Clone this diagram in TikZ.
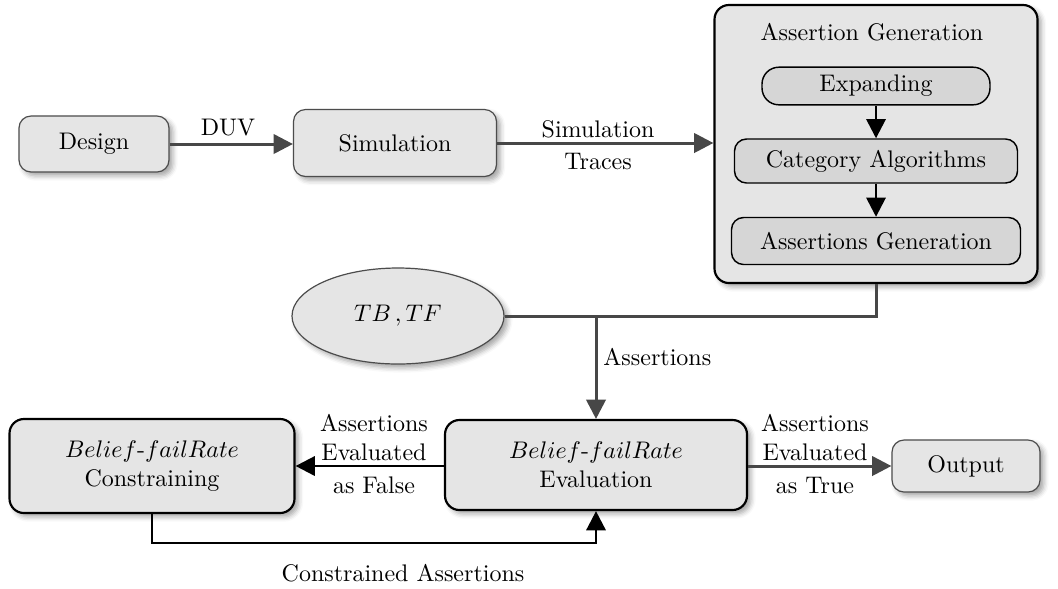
\documentclass[tikz,border=0pt]{standalone}
\usetikzlibrary{arrows.meta,shapes.geometric,shadows.blur}
\newdimen\pxu \pxu=0.4167pt
\tikzset{
  shad/.style={blur shadow={shadow xshift=1.6pt, shadow yshift=-1.6pt, shadow blur radius=2pt, shadow opacity=35}},
  box/.style={draw=black!70, line width=0.5pt, fill=black!10, rounded corners=5pt, align=center, shad},
  bigbox/.style={draw=black, line width=0.9pt, fill=black!10, rounded corners=6pt, align=center, shad},
  inbox/.style={draw=black, line width=0.6pt, fill=black!16, rounded corners=5pt, align=center},
  garrow/.style={draw=black!72, line width=1.25pt, -{Triangle[length=8pt,width=8pt]}},
  barrow/.style={draw=black, line width=1.1pt, -{Triangle[length=8pt,width=8pt]}},
  gline/.style={draw=black!72, line width=1.25pt},
  lbl/.style={align=center, inner sep=0pt}
}
\begin{document}
\begin{tikzpicture}[x=0.4167pt, y=-0.4167pt]
\useasboundingbox (0,0) rectangle (1058,588);
% top row
\node[box, minimum width=150\pxu, minimum height=56\pxu] (design) at (94,144) {Design};
\node[box, minimum width=203\pxu, minimum height=67\pxu] (sim) at (395,143) {Simulation};
% assertion generation container
\node[bigbox, minimum width=323\pxu, minimum height=278\pxu] (ag) at (876,144) {};
\node[lbl] (agt) at (872,32) {Assertion Generation};
\node[inbox, rounded corners=7pt, minimum width=228\pxu, minimum height=34\pxu] (exp) at (876,86) {Expanding};
\node[inbox, minimum width=283\pxu, minimum height=44\pxu] (cat) at (876,161) {Category Algorithms};
\node[inbox, minimum width=289\pxu, minimum height=47\pxu] (agen) at (876,241) {Assertions Generation};
% ellipse
\node[ellipse, draw=black!70, line width=0.5pt, fill=black!10, shad, minimum width=212\pxu, minimum height=96\pxu] (tb) at (398,316) {$TB\,,TF$};
% bottom row
\node[bigbox, minimum width=302\pxu, minimum height=90\pxu] (eval) at (596,465) {$Belief$-$failRate$\\Evaluation};
\node[bigbox, minimum width=285\pxu, minimum height=94\pxu] (con) at (152,466) {$Belief$-$failRate$\\Constraining};
\node[box, minimum width=148\pxu, minimum height=52\pxu] (out) at (966,466) {Output};
% connectors
\draw[garrow] (design.east) -- (sim.west |- design.east);
\node[lbl] (duv) at (228,128) {DUV};
\draw[garrow] (sim.east) -- (sim.east -| ag.west);
\node[lbl] (simt) at (598,145) {Simulation\\[1.5pt]Traces};
\draw[barrow] (exp.south) -- (cat.north);
\draw[barrow] (cat.south) -- (agen.north);
\coordinate (j) at (eval.north |- tb.east);
\draw[gline] (ag.south) |- (tb.east);
\draw[garrow] (j) -- (eval.north);
\node[lbl, anchor=west] (asl) at (603,357) {Assertions};
\draw[barrow] (eval.west |- con.east) -- (con.east);
\node[lbl] (fl) at (374,454) {Assertions\\Evaluated\\[1.5pt]as False};
\draw[garrow] (eval.east |- out.west) -- (out.west);
\node[lbl] (tl) at (815,454) {Assertions\\Evaluated\\[1.5pt]as True};
\coordinate (cb) at (0,543);
\draw[barrow] (con.south) -- (con.south |- cb) -| (eval.south);
\node[lbl] (cal) at (403,573) {Constrained Assertions};
\end{tikzpicture}
\end{document}
